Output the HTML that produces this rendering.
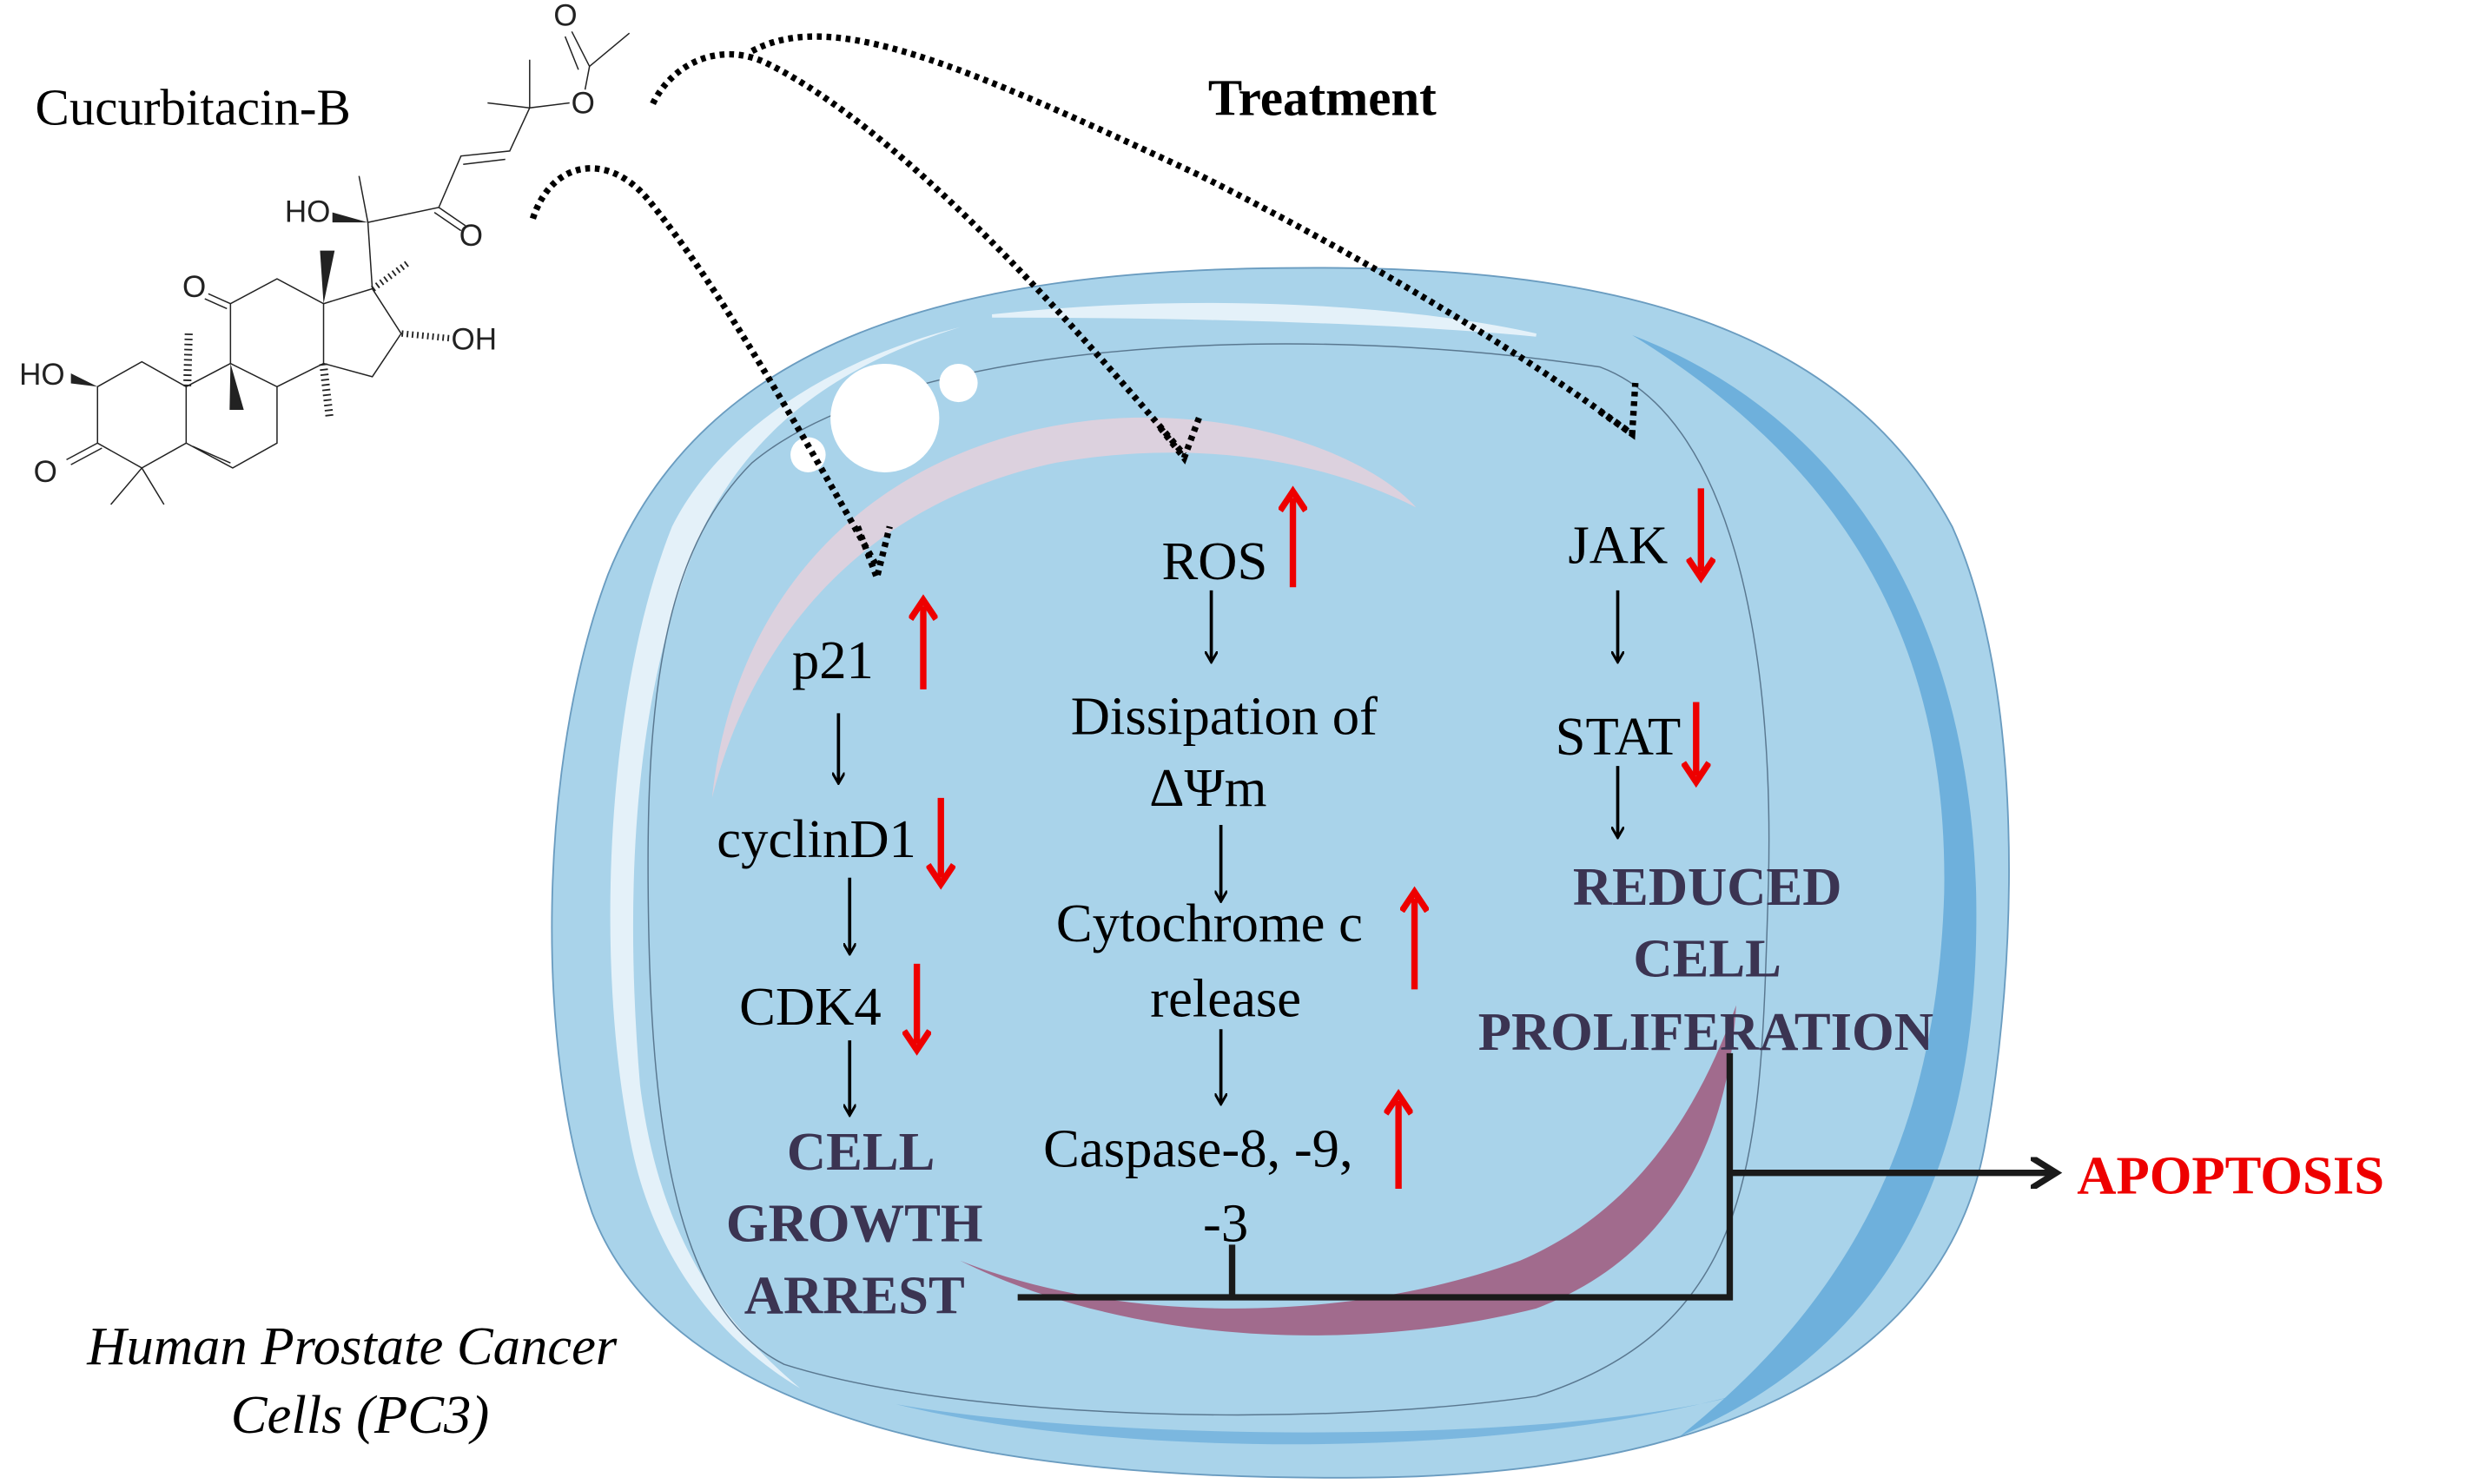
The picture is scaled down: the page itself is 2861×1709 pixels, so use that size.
<!DOCTYPE html>
<html><head><meta charset="utf-8"><style>
html,body{margin:0;padding:0;background:#fff;}
svg{display:block;}
text{font-family:"Liberation Serif",serif;}
</style></head><body>
<svg width="2861" height="1709" viewBox="0 0 1553 930" preserveAspectRatio="none" xmlns="http://www.w3.org/2000/svg">
<defs>
<marker id="ab" markerWidth="8" markerHeight="8" refX="6" refY="4" orient="auto" markerUnits="userSpaceOnUse"><path d="M0,0 L7,4 L0,8" fill="none" stroke="#000" stroke-width="1.6"/></marker>
<marker id="ar" markerWidth="18" markerHeight="18" refX="9" refY="9" orient="auto" markerUnits="userSpaceOnUse"><path d="M1,1 L13,9 L1,17" fill="none" stroke="#e00" stroke-width="4"/></marker>
<marker id="ak" markerWidth="20" markerHeight="20" refX="14" refY="10" orient="auto" markerUnits="userSpaceOnUse"><path d="M0,0 L16,10 L0,20" fill="none" stroke="#1a1a1a" stroke-width="4"/></marker>
</defs>
<path d="M800,168 C1000,165 1150,200 1220,330 C1265,430 1262,600 1240,720 C1215,850 1080,925 850,926 C620,928 420,890 370,760 C335,660 335,480 380,360 C440,210 600,170 800,168 Z" fill="#a9d3ea" stroke="#6a9cc0" stroke-width="1"/>
<path d="M1020,210 C1150,260 1230,380 1235,560 C1238,720 1190,840 1050,900 C1150,820 1210,720 1215,560 C1218,400 1150,290 1020,210 Z" fill="#5fa8d8" opacity="0.8"/>
<path d="M560,880 C700,915 950,915 1100,870 C1000,905 700,905 560,880 Z" fill="#6fb0dc" opacity="0.8"/>
<path d="M420,330 C380,430 370,600 395,720 C410,790 450,840 500,870 C440,820 410,760 400,680 C390,560 395,430 440,330 C470,270 520,230 600,205 C520,225 450,270 420,330 Z" fill="#e4f1f9"/>
<path d="M620,198 C750,184 880,192 960,210 C880,202 750,198 620,198 Z" fill="#e4f1f9" stroke="#e4f1f9" stroke-width="2"/>
<path d="M470,290 C560,215 800,200 1000,230 C1080,260 1110,400 1105,560 C1100,720 1100,830 960,875 C820,895 600,890 490,855 C420,820 405,700 405,540 C405,420 420,340 470,290 Z" fill="none" stroke="#5a7890" stroke-width="0.8"/>
<path d="M445,500 C460,360 560,270 700,262 C790,258 860,290 885,318 C820,285 740,276 660,290 C540,315 470,400 445,500 Z" fill="#e5d0dc" opacity="0.85"/>
<path d="M600,790 C700,830 840,830 950,790 C1020,760 1060,700 1085,630 C1080,720 1040,790 960,820 C840,850 700,840 600,790 Z" fill="#a0587c" opacity="0.85"/>
<circle cx="553" cy="262" r="34" fill="#fff"/>
<circle cx="599" cy="240" r="12" fill="#fff"/>
<circle cx="505" cy="285" r="11" fill="#fff"/>
<g fill="none" stroke="#000" stroke-width="4" stroke-dasharray="3,3">
<path d="M333,137 C345,100 380,95 405,125 C450,180 500,270 548,355"/>
<path d="M536,330 L548,362 L556,330"/>
<path d="M408,65 C420,40 450,25 480,40 C560,80 660,190 740,285"/>
<path d="M725,268 L740,287 L750,260"/>
<path d="M470,32 C520,5 600,40 750,110 C850,160 950,220 1020,272"/>
<path d="M1000,258 L1020,272 L1022,240"/>
</g>
<g transform="scale(0.277,0.208)" fill="none" stroke="#222" stroke-width="1.5">
<path vector-effect="non-scaling-stroke" d="M220,1165 L320,1090 L420,1165 L420,1335 L320,1410 L220,1335 Z"/>
<path vector-effect="non-scaling-stroke" d="M420,1165 L520,1095 L625,1165 L625,1335 L525,1410 L420,1335"/>
<path vector-effect="non-scaling-stroke" d="M435,1345 L520,1395"/>
<path vector-effect="non-scaling-stroke" d="M520,1095 L520,915 L625,840 L730,915 L730,1095 L625,1165"/>
<path vector-effect="non-scaling-stroke" d="M730,915 L840,870 L905,1005 L840,1135 L730,1095"/>
<path vector-effect="non-scaling-stroke" d="M840,870 L830,670 L990,625 L1040,470 L1150,455 L1195,325 L1285,310"/>
<path vector-effect="non-scaling-stroke" d="M1045,495 L1140,480"/>
<path vector-effect="non-scaling-stroke" d="M830,670 L810,530 M1195,325 L1100,310 M1195,325 L1195,180 M1320,270 L1330,200 L1290,95 M1330,200 L1420,100 M1305,210 L1275,110"/>
<path vector-effect="non-scaling-stroke" d="M990,625 L1050,680 M980,640 L1040,695"/>
<path vector-effect="non-scaling-stroke" d="M520,915 L470,885 M512,930 L462,900"/>
<path vector-effect="non-scaling-stroke" d="M220,1335 L150,1385 M230,1350 L160,1400"/>
<path vector-effect="non-scaling-stroke" d="M320,1410 L250,1520 M320,1410 L370,1520"/>
</g>
<g transform="scale(0.277,0.208)" fill="#222" stroke="none">
<path d="M830,670 L750,640 L750,670 Z"/>
<path d="M520,1095 L518,1235 L550,1235 Z"/>
<path d="M730,915 L722,755 L755,755 Z"/>
<path d="M220,1165 L160,1125 L160,1155 Z"/>
</g>
<g stroke="#222" stroke-width="1.3" stroke-dasharray="1,2.2">
<path d="M117,242 L118,207" stroke-width="5"/>
<path d="M202,228 L206,262" stroke-width="5"/>
<path d="M233,181 L256,164" stroke-width="4"/>
<path d="M251,209 L281,212" stroke-width="4"/>
</g>
<g font-size="19" fill="#222">
<text x="178" y="139" style="font-family:'Liberation Sans',sans-serif">HO</text>
<text x="287" y="154" style="font-family:'Liberation Sans',sans-serif">O</text>
<text x="114" y="186" style="font-family:'Liberation Sans',sans-serif">O</text>
<text x="282" y="219" style="font-family:'Liberation Sans',sans-serif">OH</text>
<text x="12" y="241" style="font-family:'Liberation Sans',sans-serif">HO</text>
<text x="21" y="302" style="font-family:'Liberation Sans',sans-serif">O</text>
<text x="346" y="16" style="font-family:'Liberation Sans',sans-serif">O</text>
<text x="357" y="71" style="font-family:'Liberation Sans',sans-serif">O</text>
</g>
<text x="22" y="78" font-size="32">Cucurbitacin-B</text>
<text x="755" y="72" font-size="32" font-weight="bold">Treatment</text>
<text x="220" y="855" font-size="34" font-style="italic" text-anchor="middle">Human Prostate Cancer</text>
<text x="225" y="898" font-size="34" font-style="italic" text-anchor="middle">Cells (PC3)</text>
<g font-size="34">
<text x="495" y="425">p21</text>
<text x="448" y="537">cyclinD1</text>
<text x="462" y="642">CDK4</text>
<text x="726" y="363">ROS</text>
<text x="765" y="460" text-anchor="middle">Dissipation of</text>
<text x="755" y="505" text-anchor="middle">ΔΨm</text>
<text x="660" y="590">Cytochrome c</text>
<text x="766" y="637" text-anchor="middle">release</text>
<text x="652" y="731">Caspase-8, -9,</text>
<text x="766" y="778" text-anchor="middle">-3</text>
<text x="980" y="353">JAK</text>
<text x="972" y="473">STAT</text>
</g>
<g font-size="34" font-weight="bold" fill="#3b3452" text-anchor="middle">
<text x="538" y="733">CELL</text>
<text x="534" y="778">GROWTH</text>
<text x="534" y="823">ARREST</text>
<text x="1067" y="567">REDUCED</text>
<text x="1067" y="612">CELL</text>
<text x="1066" y="658">PROLIFERATION</text>
</g>
<text x="1298" y="748" font-size="34" font-weight="bold" fill="#e00">APOPTOSIS</text>
<g stroke="#000" stroke-width="2" marker-end="url(#ab)">
<line x1="524" y1="447" x2="524" y2="490"/>
<line x1="531" y1="550" x2="531" y2="597"/>
<line x1="531" y1="652" x2="531" y2="698"/>
<line x1="757" y1="370" x2="757" y2="414"/>
<line x1="763" y1="517" x2="763" y2="564"/>
<line x1="763" y1="645" x2="763" y2="691"/>
<line x1="1011" y1="370" x2="1011" y2="414"/>
<line x1="1011" y1="480" x2="1011" y2="524"/>
</g>
<g stroke="#e00" stroke-width="4" marker-end="url(#ar)">
<line x1="577" y1="432" x2="577" y2="380"/>
<line x1="588" y1="500" x2="588" y2="550"/>
<line x1="573" y1="604" x2="573" y2="654"/>
<line x1="808" y1="368" x2="808" y2="312"/>
<line x1="884" y1="620" x2="884" y2="563"/>
<line x1="874" y1="745" x2="874" y2="690"/>
<line x1="1063" y1="306" x2="1063" y2="358"/>
<line x1="1060" y1="440" x2="1060" y2="486"/>
</g>
<g stroke="#1a1a1a" stroke-width="4" fill="none">
<path d="M636,813 L1081,813 L1081,660"/>
<path d="M770,780 L770,813"/>
<line x1="1081" y1="735" x2="1283" y2="735" marker-end="url(#ak)"/>
</g>
</svg>
</body></html>
